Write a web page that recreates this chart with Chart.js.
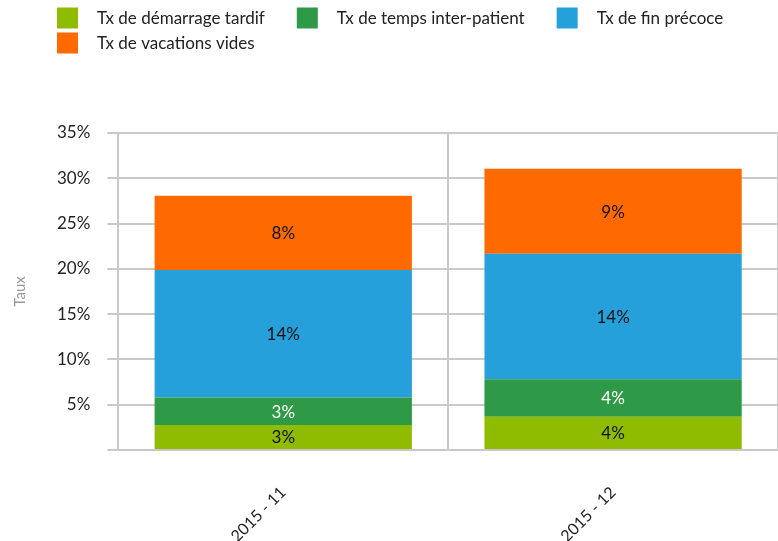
<!DOCTYPE html>
<html>
<head>
<meta charset="utf-8">
<script src="https://cdn.jsdelivr.net/npm/chart.js@4.4.1/dist/chart.umd.min.js"></script>
<style>
  html, body { margin: 0; padding: 0; background: #fff; }
  #wrap { width: 778px; height: 541px; }
</style>
</head>
<body>
<div id="wrap"><canvas id="rateChart"></canvas></div>
<script>
// Data (values in %)
const months = ['2015 - 11', '2015 - 12'];
const lateStart = [2.76, 3.68];
const interPatient = [3.04, 4.12];
const earlyEnd = [14.07, 13.87];
const emptySessions = [8.21, 9.39];

const seriesNames = [
    'Tx de démarrage tardif',
    'Tx de temps inter-patient',
    'Tx de fin précoce',
    'Tx de vacations vides'
];
const seriesColors = ['#8fbc00', '#2e9a47', '#26a0da', '#ff6a00'];
const valueColors = ['#111111', '#ffffff', '#111111', '#111111'];

const gridGrey = '#c9c9c9';
const fontFamily = 'Lato, "Open Sans", sans-serif';

Chart.defaults.font.family = fontFamily;

// Writes the rounded value in the middle of each stacked segment
const segmentLabels = {
    id: 'segmentLabels',
    afterDatasetsDraw(chart) {
        const ctx = chart.ctx;
        ctx.save();
        ctx.font = '17px ' + fontFamily;
        ctx.textAlign = 'center';
        ctx.textBaseline = 'middle';
        chart.data.datasets.forEach((ds, i) => {
            chart.getDatasetMeta(i).data.forEach((bar, j) => {
                const p = bar.getCenterPoint();
                ctx.fillStyle = valueColors[i];
                ctx.fillText(Math.round(ds.data[j]) + '%', p.x, p.y + 1);
            });
        });
        ctx.restore();
    }
};

// Square-box legend laid out like the original (wide gaps, tight rows)
const boxLegend = {
    id: 'boxLegend',
    afterDraw(chart) {
        const ctx = chart.ctx;
        const box = 21;
        const textGap = 19;
        const itemGap = 32;
        const rowStep = 25;
        const startX = 57;
        let x = startX;
        let y = 18;
        ctx.save();
        ctx.font = '17px ' + fontFamily;
        ctx.textBaseline = 'middle';
        chart.data.datasets.forEach((ds) => {
            const w = box + textGap + ctx.measureText(ds.label).width;
            if (x > startX && x + w > chart.width - 6) {
                x = startX;
                y += rowStep;
            }
            ctx.fillStyle = ds.backgroundColor;
            ctx.fillRect(x, y - box / 2, box, box);
            ctx.fillStyle = '#222';
            ctx.fillText(ds.label, x + box + textGap, y + 1);
            x += w + itemGap;
        });
        ctx.restore();
    }
};

const datasets = [lateStart, interPatient, earlyEnd, emptySessions].map((values, i) => ({
    label: seriesNames[i],
    data: values,
    backgroundColor: seriesColors[i],
    borderWidth: 0,
    barPercentage: 0.78,
    categoryPercentage: 1
}));

new Chart(document.getElementById('rateChart'), {
    type: 'bar',
    data: { labels: months, datasets },
    plugins: [segmentLabels, boxLegend],
    options: {
        responsive: true,
        maintainAspectRatio: false,
        animation: false,
        layout: { padding: { top: 133, left: 0, right: 0, bottom: 0 } },
        plugins: {
            legend: { display: false },
            tooltip: { enabled: false }
        },
        scales: {
            x: {
                stacked: true,
                afterFit: (scale) => { scale.height = 91; },
                grid: {
                    color: (ctx) => ctx.index === months.length ? 'rgba(0,0,0,0)' : gridGrey,
                    lineWidth: 2,
                    offset: true,
                    drawTicks: false
                },
                border: { color: gridGrey, width: 2 },
                ticks: {
                    minRotation: 45,
                    maxRotation: 45,
                    padding: 33,
                    color: '#222',
                    font: { size: 16 }
                }
            },
            y: {
                stacked: true,
                min: 0,
                max: 35,
                grid: { color: gridGrey, lineWidth: 2, tickLength: 11 },
                border: { color: gridGrey, width: 2 },
                ticks: {
                    stepSize: 5,
                    padding: 17,
                    color: '#222',
                    font: { size: 17 },
                    callback: (value) => value === 0 ? '' : value + '%'
                },
                title: {
                    display: true,
                    text: 'Taux',
                    color: '#9a9a9a',
                    font: { size: 15 },
                    padding: { top: 11, bottom: 11 }
                }
            }
        }
    }
});
</script>
</body>
</html>
